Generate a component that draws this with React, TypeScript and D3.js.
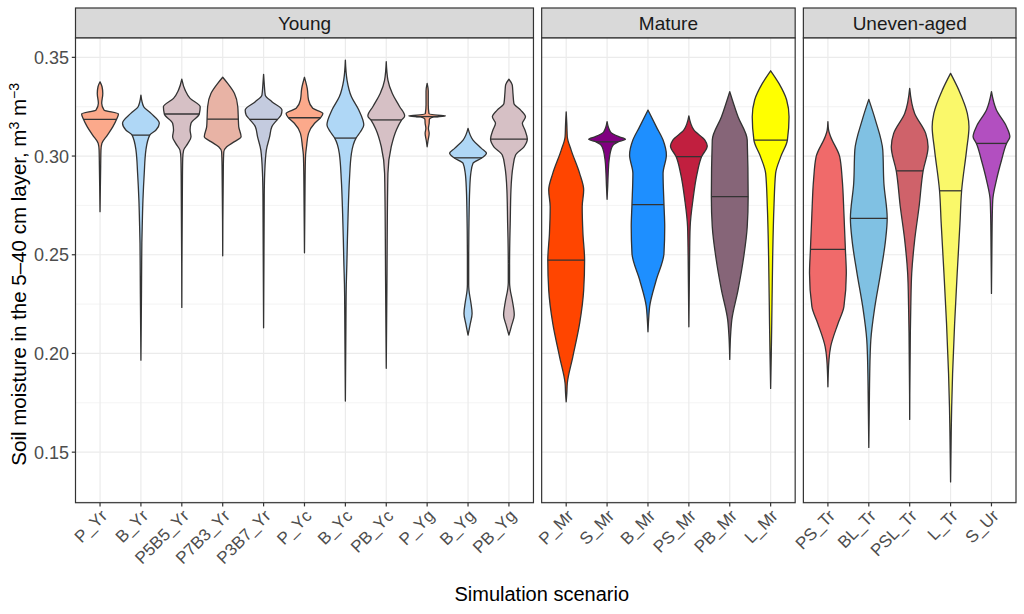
import React from "react";
import * as d3 from "d3";

type Profile = [number, number][];

// ---------- data ----------
const panelNames = ["Young", "Mature", "Uneven-aged"];

const youngCategories = ["P_Yr", "B_Yr", "P5B5_Yr", "P7B3_Yr", "P3B7_Yr", "P_Yc", "B_Yc", "PB_Yc", "P_Yg", "B_Yg", "PB_Yg"];
const matureCategories = ["P_Mr", "S_Mr", "B_Mr", "PS_Mr", "PB_Mr", "L_Mr"];
const unevenCategories = ["PS_Tr", "BL_Tr", "PSL_Tr", "L_Tr", "S_Ur"];

const youngColors = ["#FBA98B", "#AFD7F6", "#D6C0C5", "#E8B3A5", "#C4CBDF", "#FBA98B", "#AFD7F6", "#D6C0C5", "#FBA98B", "#AFD7F6", "#D6C0C5"];
const matureColors = ["#FF4500", "#800080", "#1E8FFF", "#C11F3F", "#866578", "#FFFF00"];
const unevenColors = ["#F06A6A", "#80C1E3", "#CF626A", "#FAF86A", "#B24FC0"];

const youngMedians = [0.3186, 0.3106, 0.3213, 0.3187, 0.3186, 0.3194, 0.3091, 0.3183, 0.3200, 0.2991, 0.3086];
const matureMedians = [0.2473, 0.3072, 0.2754, 0.2997, 0.2794, 0.3081];
const unevenMedians = [0.2527, 0.2684, 0.2925, 0.2824, 0.3064];

// violin outlines: [soil moisture, relative half-width]
const youngProfiles: Profile[] = [
  [[0.3376, 0], [0.3351, 0.11], [0.3317, 0.15], [0.3267, 0.09], [0.3233, 0.22], [0.3213, 1.0], [0.3186, 0.9], [0.3149, 0.7], [0.3106, 0.4], [0.3064, 0.1], [0.303, 0.05], [0.295, 0.035], [0.2718, 0]],
  [[0.3309, 0], [0.325, 0.15], [0.3216, 0.55], [0.3166, 1.0], [0.3132, 0.82], [0.3106, 0.48], [0.303, 0.27], [0.2912, 0.18], [0.2777, 0.11], [0.2642, 0.07], [0.256, 0.05], [0.245, 0.04], [0.23, 0.03], [0.1966, 0]],
  [[0.3389, 0], [0.3334, 0.18], [0.3292, 0.45], [0.325, 1.0], [0.3213, 0.95], [0.3166, 0.5], [0.3132, 0.45], [0.3098, 0.5], [0.3064, 0.33], [0.303, 0.1], [0.299, 0.05], [0.29, 0.035], [0.2233, 0]],
  [[0.3399, 0], [0.3368, 0.27], [0.3317, 0.64], [0.325, 0.82], [0.3187, 0.85], [0.3149, 0.87], [0.3098, 1.0], [0.3073, 0.64], [0.3047, 0.22], [0.3022, 0.06], [0.295, 0.035], [0.2495, 0]],
  [[0.3414, 0], [0.336, 0.04], [0.3309, 0.09], [0.3275, 0.45], [0.3233, 1.0], [0.3208, 0.95], [0.3186, 0.76], [0.3149, 0.45], [0.3098, 0.33], [0.303, 0.15], [0.2912, 0.06], [0.28, 0.035], [0.213, 0]],
  [[0.3399, 0], [0.3343, 0.15], [0.3284, 0.22], [0.3242, 0.45], [0.3216, 1.0], [0.3194, 0.87], [0.3166, 0.55], [0.3115, 0.22], [0.3047, 0.11], [0.3005, 0.06], [0.29, 0.035], [0.251, 0]],
  [[0.3486, 0], [0.3385, 0.09], [0.33, 0.33], [0.3233, 0.73], [0.3157, 1.0], [0.3123, 0.82], [0.3091, 0.58], [0.3014, 0.33], [0.2878, 0.22], [0.271, 0.15], [0.2574, 0.11], [0.245, 0.08], [0.235, 0.05], [0.2287, 0.04], [0.215, 0.03], [0.1759, 0]],
  [[0.3478, 0], [0.3385, 0.09], [0.3317, 0.33], [0.325, 0.73], [0.3203, 1.0], [0.3181, 0.82], [0.3132, 0.55], [0.3047, 0.27], [0.2912, 0.09], [0.2574, 0.05], [0.24, 0.04], [0.1925, 0]],
  [[0.3368, 0], [0.333, 0.06], [0.326, 0.06], [0.3215, 0.1], [0.3207, 0.55], [0.3203, 1.0], [0.3198, 0.35], [0.3185, 0.12], [0.3166, 0.11], [0.314, 0.07], [0.3115, 0.11], [0.308, 0.05], [0.3047, 0]],
  [[0.314, 0], [0.3081, 0.27], [0.3039, 0.73], [0.3014, 1.0], [0.2991, 0.76], [0.2963, 0.27], [0.2912, 0.15], [0.2828, 0.09], [0.2659, 0.05], [0.25, 0.035], [0.235, 0.035], [0.2321, 0.05], [0.226, 0.15], [0.2203, 0.22], [0.215, 0.12], [0.2093, 0]],
  [[0.3389, 0], [0.336, 0.18], [0.3317, 0.22], [0.3267, 0.27], [0.3233, 0.64], [0.3199, 0.9], [0.3166, 0.73], [0.3132, 0.87], [0.3086, 1.0], [0.3047, 0.82], [0.3005, 0.36], [0.2946, 0.22], [0.2828, 0.11], [0.2659, 0.07], [0.258, 0.05], [0.245, 0.035], [0.236, 0.035], [0.233, 0.06], [0.226, 0.2], [0.2195, 0.29], [0.214, 0.14], [0.2093, 0]],
];

const matureProfiles: Profile[] = [
  [[0.3224, 0], [0.316, 0.035], [0.3098, 0.06], [0.303, 0.27], [0.2912, 0.73], [0.2828, 0.95], [0.2743, 0.87], [0.2608, 0.91], [0.2473, 1.0], [0.2321, 0.95], [0.2152, 0.73], [0.1983, 0.36], [0.1849, 0.06], [0.18, 0.035], [0.1755, 0]],
  [[0.3174, 0], [0.3123, 0.18], [0.3098, 0.64], [0.3085, 1.0], [0.3072, 0.6], [0.3047, 0.27], [0.298, 0.11], [0.2912, 0.06], [0.285, 0.035], [0.2781, 0]],
  [[0.3233, 0], [0.3149, 0.45], [0.3081, 0.82], [0.3005, 1.0], [0.2912, 0.82], [0.2754, 0.87], [0.2642, 0.91], [0.2507, 0.87], [0.2372, 0.45], [0.2237, 0.09], [0.218, 0.04], [0.211, 0]],
  [[0.3203, 0], [0.3132, 0.27], [0.3081, 0.87], [0.3051, 1.0], [0.2997, 0.69], [0.2912, 0.45], [0.2777, 0.22], [0.2642, 0.07], [0.25, 0.04], [0.2135, 0]],
  [[0.3326, 0], [0.3199, 0.45], [0.3081, 0.95], [0.2794, 1.0], [0.2642, 0.95], [0.249, 0.76], [0.2321, 0.45], [0.2169, 0.11], [0.21, 0.05], [0.197, 0]],
  [[0.3432, 0], [0.3368, 0.45], [0.3284, 0.87], [0.3199, 1.0], [0.3081, 0.91], [0.2997, 0.55], [0.2912, 0.27], [0.2743, 0.18], [0.249, 0.11], [0.2152, 0.06], [0.2, 0.035], [0.1823, 0]],
];

const unevenProfiles: Profile[] = [
  [[0.3174, 0], [0.313, 0.04], [0.3098, 0.15], [0.2997, 0.64], [0.2878, 0.78], [0.271, 0.87], [0.2527, 0.95], [0.2406, 1.0], [0.2237, 0.87], [0.2152, 0.55], [0.2034, 0.15], [0.197, 0.06], [0.1831, 0]],
  [[0.3287, 0], [0.3182, 0.36], [0.303, 0.76], [0.2862, 0.82], [0.2684, 1.0], [0.2574, 0.91], [0.2406, 0.64], [0.2237, 0.33], [0.2068, 0.11], [0.1899, 0.05], [0.18, 0.035], [0.1524, 0]],
  [[0.3343, 0], [0.3216, 0.27], [0.3115, 0.87], [0.3047, 1.0], [0.2925, 0.73], [0.2743, 0.51], [0.2574, 0.27], [0.2406, 0.11], [0.2237, 0.06], [0.21, 0.035], [0.1666, 0]],
  [[0.3419, 0], [0.3334, 0.45], [0.3216, 0.91], [0.3149, 1.0], [0.303, 0.87], [0.2824, 0.6], [0.2659, 0.51], [0.2406, 0.36], [0.2152, 0.22], [0.1899, 0.11], [0.173, 0.06], [0.16, 0.035], [0.1349, 0]],
  [[0.3326, 0], [0.3233, 0.27], [0.3149, 0.82], [0.3098, 1.0], [0.3064, 0.82], [0.298, 0.55], [0.2878, 0.27], [0.2777, 0.07], [0.265, 0.035], [0.2304, 0]],
];

const yDomain = [0.1244, 0.3598];
const yTicks = [0.15, 0.2, 0.25, 0.3, 0.35];
const yMinorTicks = [0.125, 0.175, 0.225, 0.275, 0.325];

const xTitle = "Simulation scenario";

// ---------- helpers ----------
function widthAt(profile: Profile, v: number): number {
  for (let i = 0; i < profile.length - 1; i++) {
    const [a, wa] = profile[i];
    const [b, wb] = profile[i + 1];
    if ((v <= a && v >= b) || (v >= a && v <= b)) {
      const t = a === b ? 0 : (v - a) / (b - a);
      return wa + t * (wb - wa);
    }
  }
  return 0;
}

const FONT = "'Liberation Sans', Arial, Helvetica, sans-serif";

export default function App() {
  const W = 1024;
  const H = 614;
  const plotL = 75.5;
  const plotR = 1016;
  const gap = 8.2;
  const top = 38;
  const bottom = 502.7;
  const stripTop = 8;

  const panels = [
    { name: panelNames[0], cats: youngCategories, colors: youngColors, medians: youngMedians, profiles: youngProfiles },
    { name: panelNames[1], cats: matureCategories, colors: matureColors, medians: matureMedians, profiles: matureProfiles },
    { name: panelNames[2], cats: unevenCategories, colors: unevenColors, medians: unevenMedians, profiles: unevenProfiles },
  ];
  const units = panels.map((p) => p.cats.length + 0.2);
  const step = (plotR - plotL - gap * (panels.length - 1)) / d3.sum(units);
  let cursor = plotL;
  const layout = panels.map((p, i) => {
    const w = units[i] * step;
    const x = d3.scalePoint<string>().domain(p.cats).range([cursor, cursor + w]).padding(0.6);
    const r = { ...p, x0: cursor, x1: cursor + w, x };
    cursor += w + gap;
    return r;
  });

  const y = d3.scaleLinear().domain(yDomain).range([bottom, top]);
  const halfW = step * 0.45;

  return (
    <svg width={W} height={H} style={{ position: "absolute", left: 0, top: 0, background: "#fff" }} fontFamily={FONT}>
      <rect x={0} y={0} width={W} height={H} fill="#fff" />
      {layout.map((p, pi) => {
        const area = (cx: number) =>
          d3
            .area<[number, number]>()
            .curve(d3.curveMonotoneY)
            .y((d) => y(d[0]))
            .x0((d) => cx - d[1] * halfW)
            .x1((d) => cx + d[1] * halfW);
        return (
          <g key={pi}>
            {/* strip */}
            <rect x={p.x0} y={stripTop} width={p.x1 - p.x0} height={top - stripTop} fill="#D9D9D9" stroke="#333" strokeWidth={1.2} />
            <text x={(p.x0 + p.x1) / 2} y={(stripTop + top) / 2} dy="0.36em" textAnchor="middle" fontSize={19} fill="#1A1A1A">
              {p.name}
            </text>
            {/* grid */}
            <rect x={p.x0} y={top} width={p.x1 - p.x0} height={bottom - top} fill="#fff" />
            {yMinorTicks.map((t) => (
              <line key={"mn" + t} x1={p.x0} x2={p.x1} y1={y(t)} y2={y(t)} stroke="#EBEBEB" strokeWidth={0.6} />
            ))}
            {yTicks.map((t) => (
              <line key={"mj" + t} x1={p.x0} x2={p.x1} y1={y(t)} y2={y(t)} stroke="#EBEBEB" strokeWidth={1.2} />
            ))}
            {p.cats.map((c) => (
              <line key={"vx" + c} x1={p.x(c)!} x2={p.x(c)!} y1={top} y2={bottom} stroke="#EBEBEB" strokeWidth={1.2} />
            ))}
            {/* violins */}
            {p.cats.map((c, i) => {
              const cx = p.x(c)!;
              const prof = p.profiles[i];
              const m = p.medians[i];
              const mw = widthAt(prof, m) * halfW;
              return (
                <g key={"v" + c}>
                  <path d={area(cx)(prof) || ""} fill={p.colors[i]} stroke="#333" strokeWidth={1.3} strokeLinejoin="round" />
                  <line x1={cx - mw} x2={cx + mw} y1={y(m)} y2={y(m)} stroke="#333" strokeWidth={1.3} />
                </g>
              );
            })}
            {/* panel border */}
            <rect x={p.x0} y={top} width={p.x1 - p.x0} height={bottom - top} fill="none" stroke="#333" strokeWidth={1.2} />
            {/* x ticks & labels */}
            {p.cats.map((c) => {
              const cx = p.x(c)!;
              return (
                <g key={"xt" + c}>
                  <line x1={cx} x2={cx} y1={bottom} y2={bottom + 3.7} stroke="#333" strokeWidth={1.2} />
                  <text transform={`translate(${cx + 4},${bottom + 10}) rotate(-45)`} textAnchor="end" dy="0.35em" fontSize={17} fill="#4D4D4D">
                    {c}
                  </text>
                </g>
              );
            })}
          </g>
        );
      })}
      {/* y axis */}
      {yTicks.map((t) => (
        <g key={"yt" + t}>
          <line x1={plotL - 3.7} x2={plotL} y1={y(t)} y2={y(t)} stroke="#333" strokeWidth={1.2} />
          <text x={plotL - 6.5} y={y(t)} dy="0.36em" textAnchor="end" fontSize={18} fill="#4D4D4D">
            {t.toFixed(2)}
          </text>
        </g>
      ))}
      <text transform={`translate(19,${(top + bottom) / 2 + 4}) rotate(-90)`} textAnchor="middle" dy="0.36em" fontSize={20.5} fill="#000">
        Soil moisture in the 5–40 cm layer, m
        <tspan dy="-7" fontSize={14}>3</tspan>
        <tspan dy="7"> m</tspan>
        <tspan dy="-7" fontSize={14}>−3</tspan>
      </text>
      <text x={(plotL + plotR) / 2 - 4} y={601} textAnchor="middle" fontSize={20} fill="#000">
        {xTitle}
      </text>
    </svg>
  );
}
